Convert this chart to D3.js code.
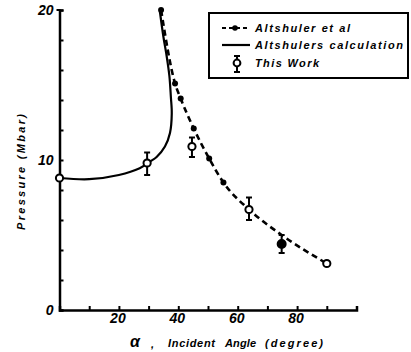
<!DOCTYPE html>
<html>
<head>
<meta charset="utf-8">
<script src="https://cdn.jsdelivr.net/npm/d3@7"></script>
<style>
  body { margin: 0; background: #fff; }
  text { font-family: "Liberation Sans", Arial, sans-serif; font-weight: bold; font-style: italic; fill: #000; }
</style>
</head>
<body>
<div id="chart"></div>
<script>
// This Work (points with error bars)
var workAngle = [0, 29.5, 44.6, 63.8, 74.8, 90];
var workP = [8.8, 9.8, 10.9, 6.7, 4.4, 3.1];
var workLow = [null, 9.0, 10.2, 6.0, 3.8, null];
var workHigh = [null, 10.5, 11.5, 7.5, 5.0, null];
var workFilled = [false, false, false, false, true, false];

// Altshuler et al (dashed, dots)
var altAngle = [34.2, 38.9, 40.8, 45.2, 50.4, 55.2];
var altP = [20, 15.1, 14.1, 12.1, 10.1, 8.5];
// tail of the dashed curve through this work points
var altTailAngle = [63.8, 74.8, 90];
var altTailP = [6.7, 5.0, 3.1];

// Altshuler's calculation (solid)
var calcAngle = [0, 10, 20, 27, 30.5, 32.7, 35.5, 37.2, 37.8, 37.5, 37.0, 36.1, 35.0, 33.8];
var calcP = [8.8, 8.72, 9.0, 9.45, 9.9, 10.2, 10.9, 11.8, 13.1, 14.2, 15.6, 16.9, 18.2, 19.9];

var xTickLabels = [20, 40, 60, 80];
var yTickLabels = [0, 10, 20];

var width = 411, height = 352;
var svg = d3.select("#chart").append("svg")
    .attr("width", width)
    .attr("height", height);

var x = d3.scaleLinear().domain([0, 100]).range([59.5, 356.5]);
var y = d3.scaleLinear().domain([0, 20]).range([310, 10]);

// axes
var xAxis = svg.append("g")
    .attr("transform", "translate(0," + y(0) + ")")
    .call(d3.axisTop(x).tickValues(d3.range(0, 101, 10)).tickSize(4).tickFormat(""));
var yAxis = svg.append("g")
    .attr("transform", "translate(" + x(0) + ",0)")
    .call(d3.axisRight(y).tickValues(d3.range(0, 21, 2)).tickSize(4).tickFormat(""));
[xAxis, yAxis].forEach(function(g) {
  g.select(".domain").attr("stroke-width", 2.5).attr("stroke", "#000");
  g.selectAll(".tick line").attr("stroke-width", 2).attr("stroke", "#000");
});
// little hook at top of y axis
svg.append("line")
    .attr("x1", x(0) - 3).attr("x2", x(0) + 1)
    .attr("y1", y(20)).attr("y2", y(20))
    .attr("stroke", "#000").attr("stroke-width", 2);

svg.append("g").selectAll("text")
  .data(xTickLabels)
  .join("text")
    .attr("x", d => x(d) - 1)
    .attr("y", y(0) + 13)
    .attr("text-anchor", "middle")
    .attr("font-size", "14px")
    .text(d => d);

svg.append("g").selectAll("text")
  .data(yTickLabels)
  .join("text")
    .attr("x", x(0) - 6)
    .attr("y", d => y(d) + 5)
    .attr("text-anchor", "end")
    .attr("font-size", "14px")
    .text(d => d);

// axis titles
svg.append("text")
    .attr("transform", "translate(25,172) rotate(-90)")
    .attr("text-anchor", "middle")
    .attr("font-size", "11px")
    .attr("textLength", 116)
    .text("Pressure (Mbar)");

var xt = svg.append("g").attr("font-size", "11px");
xt.append("text").attr("x", 130).attr("y", 347).attr("font-size", "16px").text("α");
xt.append("text").attr("x", 151).attr("y", 348).text(",");
xt.append("text").attr("x", 168).attr("y", 347).attr("textLength", 47).text("Incident");
xt.append("text").attr("x", 225).attr("y", 347).attr("textLength", 31).text("Angle");
xt.append("text").attr("x", 265).attr("y", 347).attr("textLength", 58).text("(degree)");

// Altshuler's calculation
var calc = calcAngle.map((a, i) => [a, calcP[i]]);
svg.append("path")
    .datum(calc)
    .attr("fill", "none")
    .attr("stroke", "#000")
    .attr("stroke-width", 2.2)
    .attr("d", d3.line().x(d => x(d[0])).y(d => y(d[1])).curve(d3.curveCatmullRom.alpha(0.5)));

// Altshuler et al dashed
var alt = altAngle.map((a, i) => [a, altP[i]]).concat(altTailAngle.map((a, i) => [a, altTailP[i]]));
svg.append("path")
    .datum(alt)
    .attr("fill", "none")
    .attr("stroke", "#000")
    .attr("stroke-width", 2.6)
    .attr("stroke-dasharray", "6,4")
    .attr("d", d3.line().x(d => x(d[0])).y(d => y(d[1])).curve(d3.curveMonotoneX));

svg.append("g").selectAll("circle")
  .data(altAngle.map((a, i) => [a, altP[i]]))
  .join("circle")
    .attr("cx", d => x(d[0]))
    .attr("cy", d => y(d[1]))
    .attr("r", 3)
    .attr("fill", "#000");

// This Work
var work = workAngle.map((a, i) => ({a: a, p: workP[i], lo: workLow[i], hi: workHigh[i], filled: workFilled[i]}));
var wg = svg.append("g").selectAll("g")
  .data(work)
  .join("g");
wg.filter(d => d.lo != null).each(function(d) {
  var g = d3.select(this);
  g.append("line")
      .attr("x1", x(d.a)).attr("x2", x(d.a))
      .attr("y1", y(d.hi)).attr("y2", y(d.lo))
      .attr("stroke", "#000").attr("stroke-width", 2);
  [d.hi, d.lo].forEach(function(v) {
    g.append("line")
        .attr("x1", x(d.a) - 3).attr("x2", x(d.a) + 3)
        .attr("y1", y(v)).attr("y2", y(v))
        .attr("stroke", "#000").attr("stroke-width", 2);
  });
});
wg.append("circle")
    .attr("cx", d => x(d.a))
    .attr("cy", d => y(d.p))
    .attr("r", d => d.filled ? 4 : 3.6)
    .attr("fill", d => d.filled ? "#000" : "#fff")
    .attr("stroke", "#000")
    .attr("stroke-width", 2);

// legend
var legend = svg.append("g");
legend.append("rect")
    .attr("x", 209).attr("y", 13)
    .attr("width", 199).attr("height", 65)
    .attr("fill", "none")
    .attr("stroke", "#000")
    .attr("stroke-width", 2);

legend.append("line")
    .attr("x1", 222).attr("x2", 250).attr("y1", 28).attr("y2", 28)
    .attr("stroke", "#000").attr("stroke-width", 2.2).attr("stroke-dasharray", "4,3");
legend.append("circle").attr("cx", 235).attr("cy", 28).attr("r", 2.8).attr("fill", "#000");

legend.append("line")
    .attr("x1", 222).attr("x2", 250).attr("y1", 45).attr("y2", 45)
    .attr("stroke", "#000").attr("stroke-width", 2.2);

legend.append("line")
    .attr("x1", 237).attr("x2", 237).attr("y1", 56).attr("y2", 72)
    .attr("stroke", "#000").attr("stroke-width", 2);
[56, 72].forEach(function(v) {
  legend.append("line")
      .attr("x1", 234).attr("x2", 240).attr("y1", v).attr("y2", v)
      .attr("stroke", "#000").attr("stroke-width", 2);
});
legend.append("circle").attr("cx", 237).attr("cy", 63).attr("r", 3.4)
    .attr("fill", "#fff").attr("stroke", "#000").attr("stroke-width", 2);

var legendLabels = ["Altshuler et al", "Altshulers calculation", "This Work"];
var legendY = [32, 49, 67];
var legendLen = [95, 148, 64];
legend.selectAll("text.lab")
  .data(legendLabels)
  .join("text")
    .attr("class", "lab")
    .attr("x", 255)
    .attr("y", (d, i) => legendY[i])
    .attr("font-size", "11px")
    .attr("textLength", (d, i) => legendLen[i])
    .attr("lengthAdjust", "spacing")
    .text(d => d);
</script>
</body>
</html>
